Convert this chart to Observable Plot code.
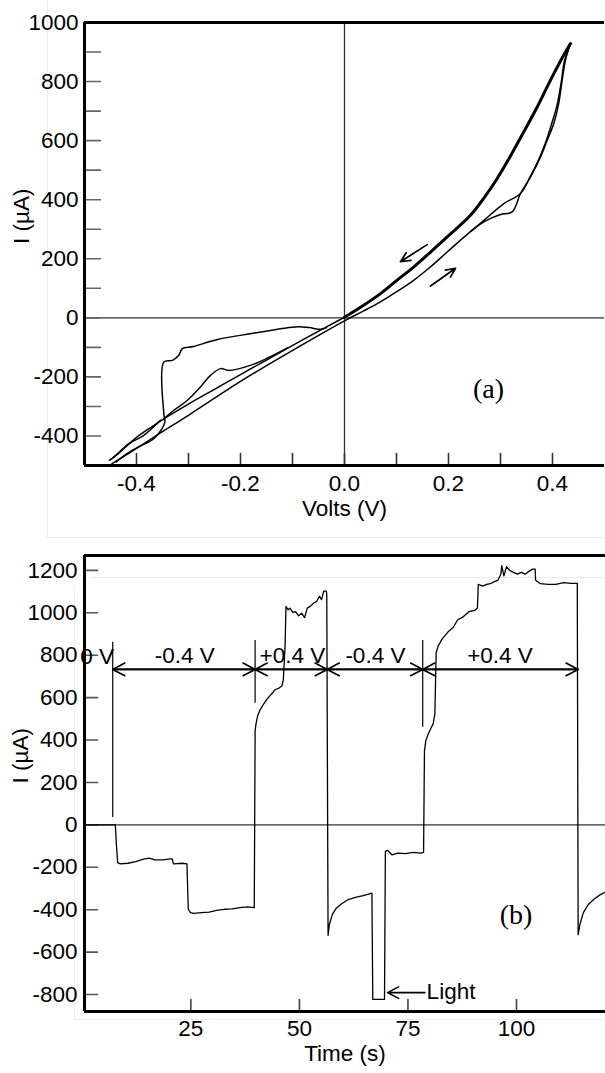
<!DOCTYPE html>
<html><head><meta charset="utf-8">
<script src="https://cdn.jsdelivr.net/npm/d3@7"></script>
<script src="https://cdn.jsdelivr.net/npm/@observablehq/plot@0.6"></script>
<style>
html,body{margin:0;padding:0;background:#fff;}
body{width:605px;height:1073px;position:relative;overflow:hidden;font-family:"Liberation Sans",Arial,sans-serif;}
#chartTop,#chartBottom{position:absolute;left:0;}
#chartTop{top:0;} #chartBottom{top:540px;}
.faint{position:absolute;border-color:#ebebeb;border-style:solid;border-width:0;}
</style></head><body>
<div class="faint" style="left:47px;top:0;width:558px;height:537px;border-left-width:1px;border-bottom-width:1px"></div>
<div class="faint" style="left:74px;top:585px;width:531px;height:434px;border-left-width:1px;border-bottom-width:1px"></div>
<div class="faint" style="left:90px;top:577px;width:515px;height:0;border-top-width:1px"></div>
<div id="chartTop"></div><div id="chartBottom"></div>
<script>
// ---------- (a) I–V sweep ----------
const ivReturn = [[0.4346,929],[0.4217,890],[0.3962,805],[0.3706,714],[0.3448,630],[0.3192,548],[0.2937,472],[0.2679,405],[0.2423,347],[0.1975,274],[0.165,222],[0.133,172],[0.1,126],[0.0692,82],[0.0346,40],[0,2]];
const ivReturnNeg = [[0,2],[-0.085,-79],[-0.15,-143],[-0.2,-192],[-0.25,-242],[-0.3,-292],[-0.3475,-342],[-0.37,-368],[-0.40,-405],[-0.43,-452],[-0.45,-480]];
const ivForward = [[-0.447,-494],[-0.40,-442],[-0.35,-385],[-0.30,-330],[-0.2,-215],[-0.085,-95],[0,-10],[0.035,22],[0.0692,54],[0.1,88],[0.133,127],[0.165,172],[0.1975,223],[0.2423,292],[0.268,325],[0.30,350],[0.3225,359],[0.3385,421],[0.3577,477],[0.377,545],[0.3898,601],[0.4025,658],[0.412,726],[0.4186,805],[0.425,873],[0.4346,929]];
const ivForwardB = [[0.2423,292],[0.268,330],[0.3064,387],[0.3385,421],[0.3577,480],[0.372,530],[0.386,590],[0.398,655],[0.409,722],[0.417,800],[0.423,870],[0.4346,929]];
const ivStep = [[-0.0346,-33],[-0.0458,-39],[-0.068,-33],[-0.0904,-30],[-0.181,-54],[-0.246,-74],[-0.2906,-97],[-0.312,-104],[-0.3187,-127],[-0.331,-144],[-0.3475,-150],[-0.3475,-324],[-0.3455,-353],[-0.3537,-383],[-0.3685,-412],[-0.387,-429],[-0.4167,-458],[-0.439,-488]];
const ivBump = [[-0.3475,-342],[-0.328,-313],[-0.3025,-280],[-0.277,-234],[-0.2577,-195],[-0.2385,-172],[-0.2225,-178],[-0.181,-161],[-0.1487,-137],[-0.11,-102]];
const ivTail = [[-0.354,-347],[-0.386,-398],[-0.4148,-426],[-0.4437,-472],[-0.452,-482]];
const ivLabeledTicks = [-400,-200,0,200,400,600,800,1000];
const ivAllTicks = [-400,-300,-200,-100,0,100,200,300,400,500,600,700,800,900,1000];
const voltAllTicks = [-0.4,-0.3,-0.2,-0.1,0,0.1,0.2,0.3,0.4];
const voltLabeledTicks = [-0.4,-0.2,0,0.2,0.4];
const sweepArrows = [ {v1:0.159,i1:248,v2:0.1077,i2:190}, {v1:0.1654,i1:108,v2:0.2135,i2:168} ];
const panelA = {text:"(a)", v:0.277, i:-240};

// ---------- (b) current vs time ----------
const timeS = [0.5,7.6,7.87,8.14,8.76,10.5,12.3,14.1,15.4,16.7,18.5,20.3,20.7,21.0,23.0,24.1,24.4,24.9,25.6,27.4,29.2,30.9,32.7,34.5,36.3,38.0,39.6,39.8,40.0,40.4,40.9,41.6,42.5,43.4,44.4,45.3,46.0,46.3,46.7,46.9,47.4,47.8,48.5,49.1,49.8,50.5,51.2,51.8,52.5,53.3,54.0,54.6,55.1,55.6,56.2,56.3,56.6,56.9,57.6,58.5,59.8,61.1,62.9,64.7,66.7,66.9,69.6,69.8,70.3,71.3,72.7,74.4,76.2,78.0,78.6,78.8,79.1,79.6,80.2,80.8,81.2,81.5,82.0,82.9,84.2,85.5,86.4,87.8,89.1,90.4,91.0,91.2,92.2,93.1,94.0,94.9,95.7,96.4,96.6,97.1,97.7,98.4,99.3,100.2,101.1,102.0,102.8,103.7,104.3,104.4,105.5,107.3,109.1,110.8,112.6,114.0,114.2,114.6,115.4,116.6,117.9,119.3,120.4];
const currentUA = [0,0,-101,-178,-184,-181,-173,-162,-157,-165,-165,-160,-160,-184,-181,-184,-398,-414,-417,-414,-411,-403,-398,-396,-390,-387,-390,444,476,516,540,565,592,613,637,645,656,685,845,1030,1014,1022,1002,1005,986,998,977,1022,1030,1046,1054,1078,1062,1102,1102,1086,-521,-470,-422,-393,-371,-354,-342,-334,-322,-823,-823,-125,-120,-141,-133,-136,-130,-133,-130,348,396,425,452,476,524,813,845,877,909,933,966,982,1006,1011,1022,1134,1126,1134,1137,1147,1153,1182,1222,1174,1217,1201,1190,1182,1190,1182,1195,1206,1206,1153,1137,1134,1134,1142,1139,1139,-518,-470,-414,-374,-350,-329,-318];
const currentTicks = [-800,-600,-400,-200,0,200,400,600,800,1000,1200];
const timeTicks = [25,50,75,100];
const markerT = [7.0, 39.8, 78.4];
const markerTop = [861, 869, 869];
const markerBottom = [35, 573, 460];
const segStart = [7.0, 39.8, 56.4, 78.4];
const segEnd = [39.8, 56.4, 78.4, 114.2];
const segLabel = ["-0.4 V", "+0.4 V", "-0.4 V", "+0.4 V"];
const segLabelT = [23.6, 48.4, 67.5, 96.2];
const arrowLevel = 733;
const labelLevel = 796;
const zeroLabel = {text:"0 V", t:3.4, i:791};
const lightArrow = {t1:78.9, t2:70.3, i:-791};
const lightLabel = {text:"Light", t:79.3, i:-788};
const panelB = {text:"(b)", t:99.9, i:-427};

const toRows = (arr, branch) => arr.map(([v,i]) => ({v, i, branch}));
const thinRows = [
  ...toRows(ivReturnNeg,"retneg"), ...toRows(ivForward,"fwd"), ...toRows(ivForwardB,"fwdb"),
  ...toRows(ivStep,"step"), ...toRows(ivBump,"bump"), ...toRows(ivTail,"tail")
];
const thickRows = toRows(ivReturn, "ret");

const FONT = "Liberation Sans, Arial, sans-serif";
const SERIF = "Liberation Serif, Times New Roman, serif";
const FS = 22.5;
const tickShape = {draw(context, l) { context.moveTo(0, 0); context.lineTo(0, -l); }};

const plotA = Plot.plot({
  width: 605, height: 540,
  marginLeft: 84, marginRight: 1, marginTop: 22, marginBottom: 75,
  style: {background: "transparent", fontFamily: FONT, fontSize: FS + "px", color: "#000", overflow: "visible"},
  x: {domain: [-0.5, 0.5], axis: null},
  y: {domain: [-500, 1000], axis: null},
  marks: [
    Plot.ruleX([0], {stroke: "#333", strokeWidth: 1.3}),
    Plot.ruleY([0], {stroke: "#333", strokeWidth: 1.3}),
    Plot.vector(ivAllTicks, {y: d => d, frameAnchor: "left", rotate: 90, length: 16, anchor: "start", shape: tickShape, stroke: "#666", strokeWidth: 1.6}),
    Plot.vector(voltAllTicks, {x: d => d, frameAnchor: "bottom", rotate: 0, length: 12, anchor: "start", shape: tickShape, stroke: "#333", strokeWidth: 1.6}),
    Plot.axisY(ivLabeledTicks, {tickSize: 0, tickPadding: 6, tickFormat: String, label: null, fontSize: FS}),
    Plot.axisX(voltLabeledTicks, {tickSize: 0, tickPadding: 10, tickFormat: d => d.toFixed(1), label: null, fontSize: FS}),
    Plot.line(thinRows, {x: "v", y: "i", z: "branch", stroke: "#000", strokeWidth: 1.5, curve: "catmull-rom"}),
    Plot.line(thickRows, {x: "v", y: "i", stroke: "#000", strokeWidth: 3, curve: "catmull-rom"}),
    Plot.arrow(sweepArrows, {x1: "v1", y1: "i1", x2: "v2", y2: "i2", stroke: "#000", strokeWidth: 1.7, headLength: 10, headAngle: 50}),
    Plot.text([panelA], {x: "v", y: "i", text: "text", fontFamily: SERIF, fontSize: 28, fill: "#000"}),
    Plot.text(["Volts (V)"], {frameAnchor: "bottom", dy: 50, text: d => d, fontSize: FS, fill: "#000"}),
    Plot.text(["I (µA)"], {frameAnchor: "left", dx: -63, rotate: -90, text: d => d, fontSize: FS, fill: "#000"}),
    Plot.ruleX([-0.5], {stroke: "#000", strokeWidth: 3}),
    Plot.ruleY([1000], {stroke: "#000", strokeWidth: 3}),
    Plot.ruleY([-500], {stroke: "#000", strokeWidth: 3})
  ]
});
document.getElementById("chartTop").appendChild(plotA);

const series = timeS.map((t, k) => ({t, i: currentUA[k]}));
const markers = markerT.map((t, k) => ({t, y1: markerBottom[k], y2: markerTop[k]}));
const segs = segStart.map((s, k) => ({s, e: segEnd[k], y: arrowLevel}));
const segLabels = segLabel.map((text, k) => ({text, t: segLabelT[k], i: labelLevel}));

const plotB = Plot.plot({
  width: 605, height: 533,
  marginLeft: 84, marginRight: 0, marginTop: 15, marginBottom: 62,
  style: {background: "transparent", fontFamily: FONT, fontSize: FS + "px", color: "#000", overflow: "visible"},
  x: {domain: [0.5, 120.5], axis: null},
  y: {domain: [-880, 1270], axis: null},
  marks: [
    Plot.ruleY([0], {stroke: "#333", strokeWidth: 1.3}),
    Plot.vector(currentTicks, {y: d => d, frameAnchor: "left", rotate: 90, length: 13, anchor: "start", shape: tickShape, stroke: "#555", strokeWidth: 1.6}),
    Plot.vector(timeTicks, {x: d => d, frameAnchor: "bottom", rotate: 0, length: 12, anchor: "start", shape: tickShape, stroke: "#444", strokeWidth: 1.6}),
    Plot.axisY(currentTicks, {tickSize: 0, tickPadding: 7, tickFormat: String, label: null, fontSize: FS}),
    Plot.axisX(timeTicks, {tickSize: 0, tickPadding: 9, tickFormat: String, label: null, fontSize: FS}),
    Plot.ruleX(markers, {x: "t", y1: "y1", y2: "y2", stroke: "#000", strokeWidth: 1.2}),
    Plot.line(series, {x: "t", y: "i", stroke: "#000", strokeWidth: 1.3}),
    Plot.arrow(segs, {x1: "s", x2: "e", y1: "y", y2: "y", stroke: "#000", strokeWidth: 1.7, headLength: 12, headAngle: 55}),
    Plot.arrow(segs, {x1: "e", x2: "s", y1: "y", y2: "y", stroke: "#000", strokeWidth: 1.7, headLength: 12, headAngle: 55}),
    Plot.text(segLabels, {x: "t", y: "i", text: "text", fontSize: FS, fill: "#000"}),
    Plot.text([zeroLabel], {x: "t", y: "i", text: "text", fontSize: FS, fill: "#000"}),
    Plot.arrow([lightArrow], {x1: "t1", x2: "t2", y1: "i", y2: "i", stroke: "#000", strokeWidth: 1.6, headLength: 12, headAngle: 55}),
    Plot.text([lightLabel], {x: "t", y: "i", text: "text", textAnchor: "start", fontSize: FS, fill: "#000"}),
    Plot.text([panelB], {x: "t", y: "i", text: "text", fontFamily: SERIF, fontSize: 28, fill: "#000"}),
    Plot.text(["Time (s)"], {frameAnchor: "bottom", dy: 49, text: d => d, fontSize: FS, fill: "#000"}),
    Plot.text(["I (µA)"], {frameAnchor: "left", dx: -64, rotate: -90, text: d => d, fontSize: FS, fill: "#000"}),
    Plot.ruleX([0.5], {stroke: "#000", strokeWidth: 3}),
    Plot.ruleY([1270], {stroke: "#000", strokeWidth: 3}),
    Plot.ruleY([-880], {stroke: "#000", strokeWidth: 3})
  ]
});
document.getElementById("chartBottom").appendChild(plotB);
</script>
</body></html>
